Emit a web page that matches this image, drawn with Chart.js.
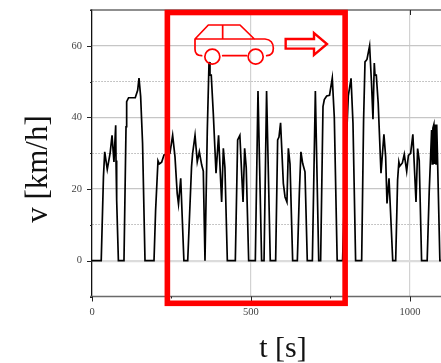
<!DOCTYPE html>
<html>
<head>
<meta charset="utf-8">
<style>html,body{margin:0;padding:0;background:#fff}canvas{display:block}</style>
<script src="https://cdn.jsdelivr.net/npm/chart.js@4"></script>
</head>
<body>
<canvas id="c" width="441" height="363"></canvas>
<script>
const times = [0,29,36,40,48,57,63,69,74.5,75.5,77.6,83,100.6,107,109,115,136,143.6,147.8,153,159,166.7,195,200,207.5,211.7,219,226.4,245,253.6,261,268,272,279,289,301,313,316.5,324,331,337.5,345,350,355.3,362.6,368,371,375,381.5,390,398,407.7,413,418,425.6,450.7,458,465,475,480,485,492.7,513.6,522,533.4,541,549,560.6,577.5,583.8,588,593,601.7,607,613,617.5,622.7,631,645.7,652,657,662.4,669.8,677,693,702.4,713,719,726.4,730.6,738,747,755.6,762,771,788,796,806,814.6,820.7,829,848,854,858.5,864.7,873,879,883.6,887.7,890,894,900,908.8,918,923.4,927.7,934,940,945.7,955,961,965,968,976,982,989.6,995,1002,1009,1018.9,1024,1029,1036.5,1054,1060.4,1068,1070,1072,1075,1077,1080,1082,1084,1087,1094,1097.5];
const speeds = [0,0,23.4,30.4,25.5,30,35,27.6,37.8,28,16.9,0,0,37.4,44.4,45.5,45.5,47.6,51,45.8,32.8,0,0,14,27.9,27,27.5,29.5,30,35,29,18.7,15.8,23,0,0,26.2,30,35,27.6,30.4,26.7,25,0,36.5,55.5,51.8,51.8,41,24.4,35,16.4,31.4,26,0,0,33.7,35,16.4,31.4,26,0,0,47.4,0,0,47.4,0,0,33.7,34.5,38.5,21.6,17.8,16.4,31.4,27,0,0,18.8,30.4,27.2,24.8,0,0,47.4,0,0,43,45,46,46.2,51,40,0,0,25,46,50.9,38.4,0,0,39,55.5,56.2,60,49.5,39.5,55.2,51.8,51.8,44,24.4,35.3,29,16,23,11.3,0,0,22.5,27.6,26.4,27.3,29.7,25,29.4,30,35.3,16.4,31.3,28,0,0,19.2,36.5,27,37,38,27,38,27,38,27,0,0];
const xLabels = [0, 500, 1000];
const yLabels = [0, 20, 40, 60];
const xTitle = "t [s]";
const yTitle = "v [km/h]";

const SERIF = "'Liberation Serif'";
const RED = "#ff0000";

const decor = {
  id: "decor",
  beforeDatasetsDraw(chart) {
    const {ctx, chartArea: a, scales: {x, y}} = chart;
    ctx.save();
    ctx.strokeStyle = "#6a6a6a";
    ctx.lineWidth = 1.5;
    ctx.beginPath(); ctx.moveTo(90, a.top); ctx.lineTo(a.right, a.top); ctx.stroke();
    ctx.beginPath(); ctx.moveTo(90, a.bottom); ctx.lineTo(a.right, a.bottom); ctx.stroke();
    ctx.strokeStyle = "#222";
    ctx.lineWidth = 1;
    x.ticks.forEach(t => {
      const p = Math.round(x.getPixelForValue(t.value)) + 0.5;
      const major = xLabels.includes(t.value);
      ctx.beginPath();
      ctx.moveTo(p, a.bottom); ctx.lineTo(p, a.bottom + (major ? 5 : 2)); ctx.stroke();
      if (t.value > 0) {
        ctx.beginPath();
        ctx.moveTo(p, a.top); ctx.lineTo(p, a.top + (major ? 5 : 2)); ctx.stroke();
      }
    });
    y.ticks.forEach(t => {
      const p = Math.round(y.getPixelForValue(t.value)) + 0.5;
      const major = yLabels.includes(t.value);
      ctx.beginPath();
      ctx.moveTo(a.left, p); ctx.lineTo(a.left - (major ? 5 : 2), p); ctx.stroke();
    });
    ctx.restore();
  },
  afterDraw(chart) {
    const {ctx, scales: {x, y}} = chart;
    ctx.save();
    ctx.fillStyle = "#111";
    ctx.textAlign = "center";
    ctx.textBaseline = "alphabetic";
    ctx.font = "30px " + SERIF;
    ctx.fillText(x.options.title.text, 283, 357);
    ctx.save();
    ctx.translate(47, 169);
    ctx.rotate(-Math.PI / 2);
    ctx.font = "31px " + SERIF;
    ctx.fillText(y.options.title.text, 0, 0);
    ctx.restore();
    ctx.strokeStyle = RED;
    ctx.lineWidth = 5.6;
    ctx.strokeRect(x.getPixelForValue(237), y.getPixelForValue(69.3),
      x.getPixelForValue(796) - x.getPixelForValue(237),
      y.getPixelForValue(-11.9) - y.getPixelForValue(69.3));
    ctx.lineWidth = 1.7;
    ctx.lineJoin = "round";
    ctx.lineCap = "round";
    const X = v => 185 + v / 3, Y = v => 15 + v / 3;
    ctx.beginPath();
    ctx.moveTo(X(50), Y(122));
    ctx.quadraticCurveTo(X(30), Y(122), X(30), Y(103));
    ctx.lineTo(X(30), Y(72));
    ctx.lineTo(X(70), Y(30));
    ctx.lineTo(X(165), Y(30));
    ctx.lineTo(X(208), Y(72));
    ctx.moveTo(X(30), Y(72));
    ctx.lineTo(X(240), Y(72));
    ctx.quadraticCurveTo(X(265), Y(74), X(265), Y(100));
    ctx.quadraticCurveTo(X(265), Y(122), X(245), Y(122));
    ctx.moveTo(X(113), Y(30)); ctx.lineTo(X(113), Y(72));
    ctx.moveTo(X(113), Y(122)); ctx.lineTo(X(185), Y(122));
    ctx.stroke();
    [82, 212].forEach(cx => {
      ctx.beginPath();
      ctx.arc(X(cx), Y(125), 7.5, 0, Math.PI * 2);
      ctx.stroke();
    });
    ctx.lineWidth = 2.4;
    ctx.lineJoin = "miter";
    ctx.beginPath();
    ctx.moveTo(X(302), Y(72));
    ctx.lineTo(X(387), Y(72));
    ctx.lineTo(X(387), Y(54));
    ctx.lineTo(X(426), Y(87));
    ctx.lineTo(X(387), Y(120));
    ctx.lineTo(X(387), Y(101));
    ctx.lineTo(X(302), Y(101));
    ctx.closePath();
    ctx.stroke();
    ctx.restore();
  }
};

new Chart(document.getElementById("c"), {
  type: "line",
  data: {
    datasets: [{
      data: times.map((t, i) => ({x: t, y: speeds[i]})),
      borderColor: "#000",
      borderWidth: 1.7,
      pointRadius: 0,
      tension: 0,
      fill: false
    }]
  },
  options: {
    responsive: false,
    animation: false,
    devicePixelRatio: 1,
    layout: {padding: {top: 10, left: 0, right: 0, bottom: 0}},
    plugins: {legend: {display: false}, tooltip: {enabled: false}},
    scales: {
      x: {
        type: "linear",
        min: 0, max: 1097.5,
        afterFit(s) { s.height = 66.5; s.paddingLeft = 0; s.paddingRight = 0; },
        afterBuildTicks(s) { s.ticks = [0, 250, 500, 750, 1000].map(v => ({value: v})); },
        title: {display: false, text: xTitle},
        border: {color: "#6a6a6a", width: 0},
        grid: {
          drawTicks: false,
          color: c => xLabels.includes(c.tick && c.tick.value) && c.tick.value > 0 ? "#d2d2d2" : "rgba(0,0,0,0)",
          lineWidth: 1.2
        },
        ticks: {
          autoSkip: false, maxRotation: 0, padding: 9, color: "#444",
          font: {family: SERIF, size: 10.5},
          callback: v => xLabels.includes(v) ? String(v) : ""
        }
      },
      y: {
        min: -10, max: 70,
        afterFit(s) { s.width = 92; s.paddingTop = 0; s.paddingBottom = 0; },
        afterBuildTicks(s) { s.ticks = [-10, 0, 10, 20, 30, 40, 50, 60, 70].map(v => ({value: v})); },
        title: {display: false, text: yTitle},
        border: {color: "#111", width: 1.3,
          dash: c => (c.tick && yLabels.includes(c.tick.value)) ? [] : [1.5, 1.5]},
        grid: {
          drawTicks: false,
          color: c => {
            const v = c.tick && c.tick.value;
            if (v === -10 || v === 70) return "rgba(0,0,0,0)";
            return yLabels.includes(v) ? (v === 0 ? "#dcdcdc" : "#c6c6c6") : "#b4b4b4";
          },
          lineWidth: c => (c.tick && c.tick.value === 0) ? 2.2 : (c.tick && yLabels.includes(c.tick.value) ? 1.2 : 1)
        },
        ticks: {
          autoSkip: false, padding: 10, color: "#444",
          font: {family: SERIF, size: 10.5},
          callback: v => yLabels.includes(v) ? String(v) : ""
        }
      }
    }
  },
  plugins: [decor]
});
</script>
</body>
</html>
